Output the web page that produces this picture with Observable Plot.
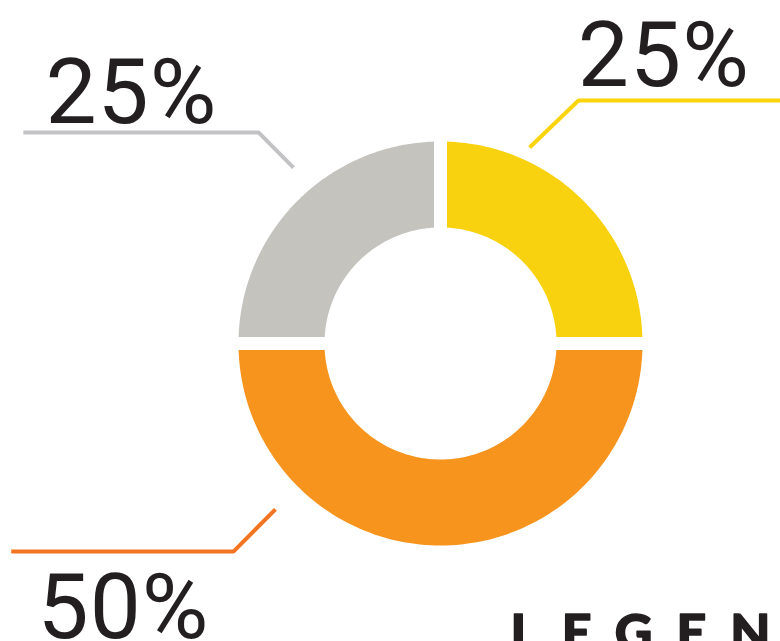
<!DOCTYPE html>
<html>
<head>
<meta charset="utf-8">
<script src="https://cdn.jsdelivr.net/npm/d3@7"></script>
<script src="https://cdn.jsdelivr.net/npm/@observablehq/plot@0.6"></script>
<style>
  html, body { margin: 0; padding: 0; background: #ffffff; overflow: hidden; }
  #chart svg { display: block; }
</style>
</head>
<body>
<div id="chart"></div>
<script>
// ---- data ----
const categories = ["Yellow", "Orange", "Gray"];
const values = [25, 50, 25];
const labels = ["25%", "50%", "25%"];
const sliceColors = ["#f9d20f", "#f7941e", "#c4c3be"];
const lineColors = ["#fcd40b", "#f37521", "#c2c2c4"];
const legendTitle = "LEGEND";

// ---- layout (units of outer radius; center at 0,0) ----
const R_PX = 202;            // outer radius in px
const INNER = 116 / 202;     // inner radius ratio
const GAP = 13 / 202;        // white gap between slices (radius units)
const W = 780, H = 641, CX = 440, CY = 343;
const annot = {
  Yellow: {start: [0.441, 0.970], elbow: [0.683, 1.203], endX: 1.70, text: [0.680, 1.277]},
  Orange: {start: [-0.817, -0.821], elbow: [-1.025, -1.030], endX: -2.125, text: [-1.995, -1.460]},
  Gray:   {start: [-0.728, 0.871], elbow: [-0.901, 1.045], endX: -2.065, text: [-1.956, 1.094]}
};

// slice angles from the values (clockwise from 12 o'clock)
const pie = d3.pie().sort(null).value(d => d)(values);

// outline of each padded annular sector, in radius units
const STEPS = 120;
const slicePts = [];
pie.forEach((p, i) => {
  const h = GAP / 2;
  const ring = (r, a0, a1) => {
    const o = Math.asin(h / r);
    const s = a0 + o, e = a1 - o;
    return d3.range(STEPS + 1).map(k => s + (e - s) * k / STEPS).map(a => [r * Math.sin(a), r * Math.cos(a)]);
  };
  const outer = ring(1, p.startAngle, p.endAngle);
  const inner = ring(INNER, p.startAngle, p.endAngle).reverse();
  [...outer, ...inner].forEach(([x, y]) => slicePts.push({category: categories[i], color: sliceColors[i], x, y}));
});

const leaderPts = [];
categories.forEach((c, i) => {
  const a = annot[c];
  leaderPts.push({category: c, color: lineColors[i], x: a.start[0], y: a.start[1]});
  leaderPts.push({category: c, color: lineColors[i], x: a.elbow[0], y: a.elbow[1]});
  leaderPts.push({category: c, color: lineColors[i], x: a.endX, y: a.elbow[1]});
});
const labelRows = categories.map((c, i) => ({label: labels[i], x: annot[c].text[0], y: annot[c].text[1]}));

const chart = Plot.plot({
  width: W,
  height: H,
  margin: 0,
  style: {background: "#ffffff", overflow: "visible"},
  x: {domain: [-CX / R_PX, (W - CX) / R_PX], axis: null},
  y: {domain: [-(H - CY) / R_PX, CY / R_PX], axis: null},
  marks: [
    Plot.line(slicePts, {x: "x", y: "y", z: "category", fill: "color", stroke: "none", curve: "linear-closed"}),
    Plot.line(leaderPts, {x: "x", y: "y", z: "category", stroke: "color", strokeWidth: 4, strokeLinejoin: "miter", strokeLinecap: "butt"}),
    Plot.text(labelRows, {
      x: "x", y: "y", text: "label", textAnchor: "start", lineAnchor: "bottom",
      fontSize: 91, fontFamily: "Roboto", fontWeight: 400, fill: "#231f20"
    }),
    Plot.text([legendTitle], {
      x: () => (510 - CX) / R_PX, y: () => -(650 - CY) / R_PX, text: d => d,
      textAnchor: "start", lineAnchor: "bottom",
      fontSize: 52, fontFamily: "Lato", fontWeight: 900, fill: "#231f20",
      stroke: "#231f20", strokeWidth: 1.5
    })
  ]
});
// typographic spacing
d3.select(chart).selectAll("text").each(function () {
  const t = this.textContent;
  if (t === legendTitle) this.setAttribute("letter-spacing", "24");
  else if (labels.includes(t)) this.setAttribute("letter-spacing", "1");
});
document.getElementById("chart").appendChild(chart);
</script>
</body>
</html>
